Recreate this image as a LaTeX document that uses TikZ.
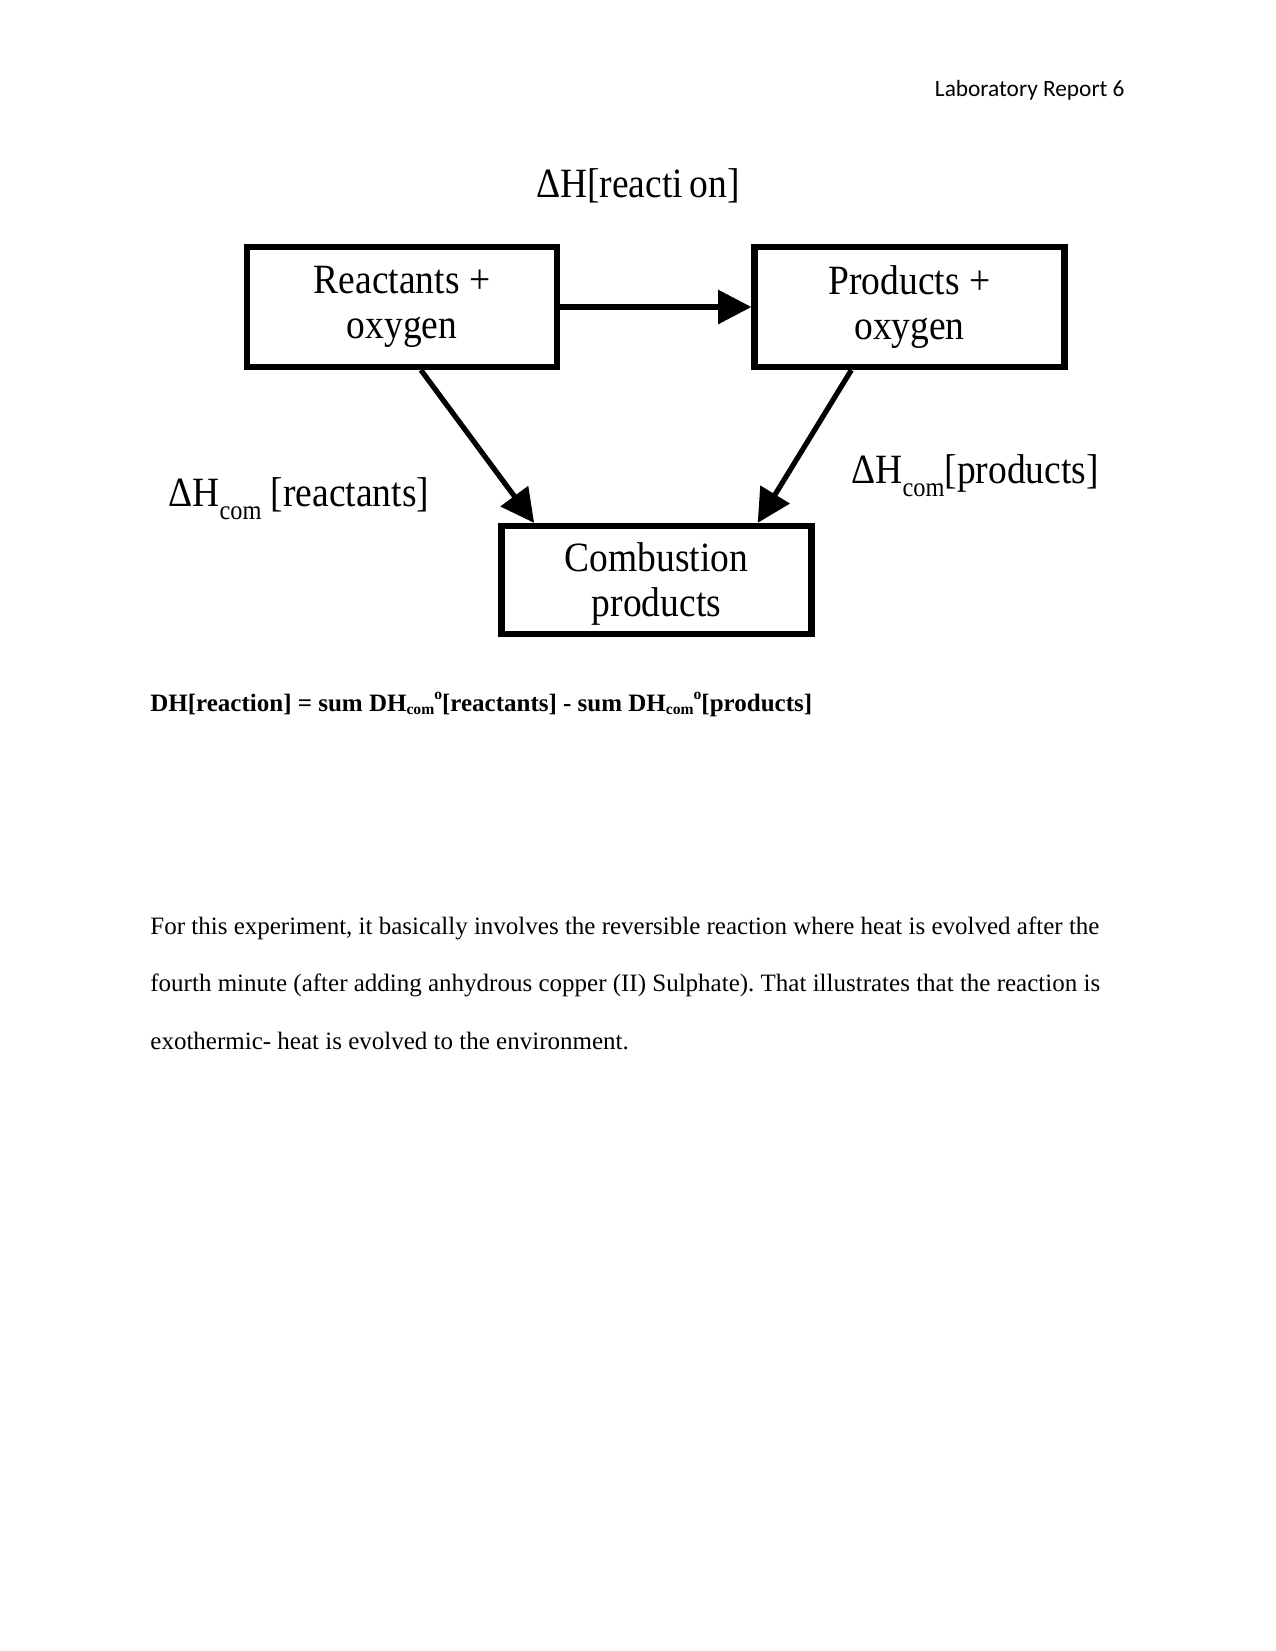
\documentclass[tikz,border=0pt]{standalone}
\usepackage{fontspec}
\setmainfont{Liberation Serif}
\newfontfamily\diagfont[FakeStretch=0.9]{Liberation Serif}
\newfontfamily\hdrfont{Carlito}
\usetikzlibrary{arrows.meta,calc}
\frenchspacing
\newcommand\subc[1]{\raisebox{-0.32em}{\fontsize{13}{13}\selectfont #1}}
\newcommand\eqsub[1]{\raisebox{-0.15em}{\fontsize{7.5}{8}\selectfont #1}}
\newcommand\eqsup[1]{\raisebox{0.45em}{\fontsize{7.5}{8}\selectfont #1}}
\tikzset{
  box/.style={draw, line width=3pt, minimum width=148.8pt, minimum height=57.6pt,
    inner sep=0pt, align=center, font=\diagfont\fontsize{20}{21.5}\selectfont},
  arr/.style={line width=2.5pt, -{Triangle[length=16pt,width=16pt]}},
  lbl/.style={inner sep=0pt, font=\diagfont\fontsize{20}{22}\selectfont},
  body/.style={inner sep=0pt, anchor=base west, font=\fontsize{12}{14}\selectfont},
}
\begin{document}
\begin{tikzpicture}[x=0.48pt,y=-0.48pt]
\path[use as bounding box, fill=white] (0,0) rectangle (1275,1651);

\node[anchor=base east, inner sep=0pt, font=\hdrfont\fontsize{11.2}{13}\selectfont] (hdr) at (1125,97) {Laboratory Report 6};

\node[lbl, anchor=base] (top) at (638,198) {ΔH[reacti\,on]};

\node[box] (reac) at (402,307) {Reactants +\\oxygen};
\node[box] (prod) at (909.5,307) {Products +\\oxygen};
\node[box, minimum height=51.8pt] (comb) at (656.5,580) {\raisebox{-7.5pt}[0pt][0pt]{\begin{tabular}{@{}c@{}}Combustion\\products\end{tabular}}};

\draw[arr] (reac.east) -- (prod.west);
\draw[arr] ($(reac.south west)!0.56!(reac.south east)$) -- ($(comb.north west)!0.113!(comb.north east)$);
\draw[arr] ($(prod.south west)!0.316!(prod.south east)$) -- ($(comb.north west)!0.82!(comb.north east)$);

\node[lbl, anchor=base west] (lr) at (168,506) {ΔH\subc{com} [reactants]};
\node[lbl, anchor=base west] (lp) at (851,483) {ΔH\subc{com}[products]};

\node[body, font=\bfseries\fontsize{12}{14}\selectfont] (eq) at (150,711)
  {DH[reaction] = sum DH\eqsub{com}\eqsup{o}[reactants] - sum DH\eqsub{com}\eqsup{o}[products]};

\node[body] (p1) at (150,934) {For this experiment, it basically involves the reversible reaction where heat is evolved after the};
\node[body] (p2) at (150,991) {fourth minute (after adding anhydrous copper (II) Sulphate). That illustrates that the reaction is};
\node[body] (p3) at (150,1049) {exothermic- heat is evolved to the environment.};
\end{tikzpicture}
\end{document}
